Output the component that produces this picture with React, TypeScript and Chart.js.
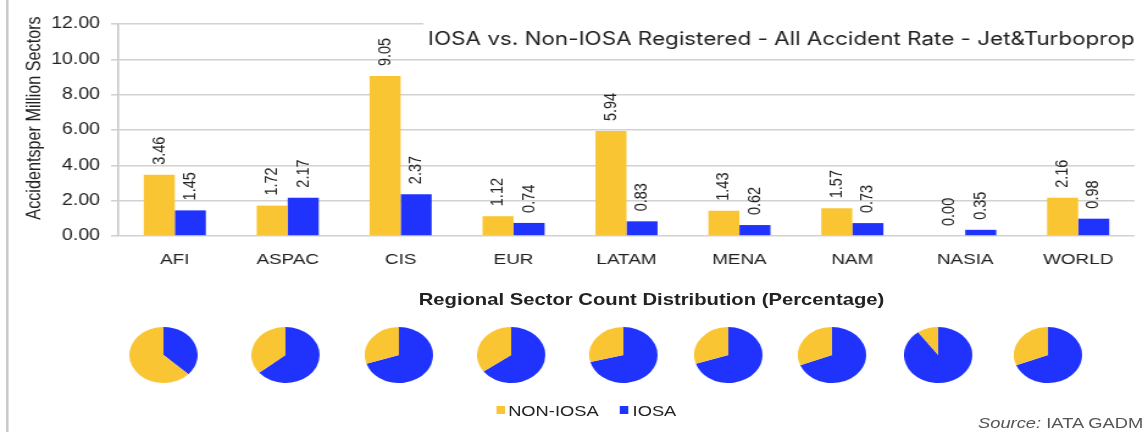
import React, { useEffect, useRef } from "react";
import { Chart, registerables } from "chart.js";

Chart.register(...registerables);

// ---------- data ----------
const categories = ["AFI", "ASPAC", "CIS", "EUR", "LATAM", "MENA", "NAM", "NASIA", "WORLD"];
const nonIosaRates = [3.46, 1.72, 9.05, 1.12, 5.94, 1.43, 1.57, 0.0, 2.16];
const iosaRates = [1.45, 2.17, 2.37, 0.74, 0.83, 0.62, 0.73, 0.35, 0.98];
const yTickValues = [0, 2, 4, 6, 8, 10, 12];
const pieNonIosaShare = [63, 36, 30, 35, 29, 30, 31, 10, 31];
const pieIosaShare = [37, 64, 70, 65, 71, 70, 69, 90, 69];
const seriesNames = ["NON-IOSA", "IOSA"];
const chartTitle = "IOSA vs. Non-IOSA Registered - All Accident Rate - Jet&Turboprop";
const yAxisTitle = "Accidentsper Million Sectors";
const pieSectionTitle = "Regional Sector Count Distribution (Percentage)";
const sourceLabel = "Source:";
const sourceText = " IATA GADM";

// ---------- layout / style ----------
const YELLOW = "#F9C533";
const BLUE = "#1F33FC";
const TEXT = "#222222";
const STRETCH = 1.22;
const DW = 940; // design width (stretched horizontally to 1147)
const BAR_H = 280;
const PLOT_LEFT = 97;
const PLOT_TOP = 24;
const PLOT_BOTTOM = 236;
const PAD_LEFT = 12;
const PIE_D = 56;
const PIE_CY = 355;
const pieCentersX = [134, 234, 327, 419, 511, 597, 682, 769, 859];

const titlePlugin = {
  id: "topTitle",
  beforeDatasetsDraw(chart: any) {
    const ctx = chart.ctx;
    ctx.save();
    ctx.fillStyle = "#ffffff";
    ctx.fillRect(347, 17, chart.width - 347, 37);
    ctx.fillStyle = TEXT;
    ctx.font = "18.4px Inter";
    ctx.textAlign = "right";
    ctx.textBaseline = "middle";
    ctx.fillText(chartTitle, 930, 39);
    // y-axis title
    ctx.save();
    ctx.translate(28.5, 118);
    ctx.rotate(-Math.PI / 2);
    ctx.textAlign = "center";
    ctx.font = "16.2px 'Liberation Sans'";
    ctx.fillText(yAxisTitle, 0, 0);
    ctx.restore();
    ctx.restore();
  },
};

const valueLabelPlugin = {
  id: "valueLabels",
  afterDatasetsDraw(chart: any) {
    const ctx = chart.ctx;
    ctx.save();
    ctx.fillStyle = TEXT;
    ctx.font = "14.5px 'Liberation Sans'";
    ctx.textAlign = "left";
    ctx.textBaseline = "middle";
    chart.data.datasets.forEach((ds: any, di: number) => {
      const meta = chart.getDatasetMeta(di);
      meta.data.forEach((bar: any, i: number) => {
        const v = ds.data[i] as number;
        ctx.save();
        ctx.translate(bar.x, bar.y - 10);
        ctx.rotate(-Math.PI / 2);
        ctx.fillText(v.toFixed(2), 0, 0);
        ctx.restore();
      });
    });
    ctx.restore();
  },
};

function BarChart() {
  const ref = useRef<HTMLCanvasElement | null>(null);
  useEffect(() => {
    if (!ref.current) return;
    const chart = new Chart(ref.current, {
      type: "bar",
      data: {
        labels: categories,
        datasets: [
          { label: seriesNames[0], data: nonIosaRates, backgroundColor: YELLOW, categoryPercentage: 0.55, barPercentage: 1 },
          { label: seriesNames[1], data: iosaRates, backgroundColor: BLUE, categoryPercentage: 0.55, barPercentage: 1 },
        ],
      },
      options: {
        responsive: false,
        animation: false,
        events: [],
        layout: { padding: { top: PLOT_TOP, left: PAD_LEFT, right: DW - 930, bottom: 0 } },
        plugins: { legend: { display: false }, tooltip: { enabled: false }, title: { display: false } },
        scales: {
          x: {
            grid: { display: false, drawTicks: false },
            border: { display: false },
            ticks: { padding: 14, color: TEXT, font: { family: "'Liberation Sans'", size: 15.5 } },
            afterFit: (s: any) => {
              s.height = BAR_H - PLOT_BOTTOM;
            },
          },
          y: {
            min: 0,
            max: 12,
            afterBuildTicks: (s: any) => {
              s.ticks = yTickValues.map((v) => ({ value: v }));
            },
            ticks: {
              padding: 9,
              color: TEXT,
              font: { family: "'Liberation Sans'", size: 16 },
              callback: (v: any) => Number(v).toFixed(2),
            },
            grid: { color: "#d2d2d2", lineWidth: 1.6, tickLength: 6 },
            border: { display: true, color: "#c6c6c6", width: 1.6 },
            title: { display: false },
            afterFit: (s: any) => {
              s.width = PLOT_LEFT - PAD_LEFT;
            },
          },
        },
      },
      plugins: [titlePlugin, valueLabelPlugin],
    });
    return () => chart.destroy();
  }, []);
  return <canvas ref={ref} width={DW} height={BAR_H} style={{ position: "absolute", left: 0, top: 0 }} />;
}

function Pie({ index }: { index: number }) {
  const ref = useRef<HTMLCanvasElement | null>(null);
  useEffect(() => {
    if (!ref.current) return;
    const chart = new Chart(ref.current, {
      type: "pie",
      data: {
        labels: [seriesNames[1], seriesNames[0]],
        datasets: [
          {
            data: [pieIosaShare[index], pieNonIosaShare[index]],
            backgroundColor: [BLUE, YELLOW],
            borderWidth: 0,
            hoverOffset: 0,
          },
        ],
      },
      options: {
        responsive: false,
        animation: false,
        events: [],
        plugins: { legend: { display: false }, tooltip: { enabled: false } },
      },
    });
    return () => chart.destroy();
  }, [index]);
  return (
    <canvas
      ref={ref}
      width={PIE_D}
      height={PIE_D}
      style={{ position: "absolute", left: pieCentersX[index] - PIE_D / 2, top: PIE_CY - PIE_D / 2 }}
    />
  );
}

export default function App() {
  const font = "'Liberation Sans', Arial, sans-serif";
  return (
    <div style={{ position: "absolute", left: 0, top: 0, width: 1147, height: 432, background: "#fff", overflow: "hidden" }}>
      <div
        style={{
          position: "absolute",
          left: 0,
          top: 0,
          width: DW,
          height: 432,
          transform: `scaleX(${STRETCH})`,
          transformOrigin: "0 0",
          fontFamily: font,
        }}
      >
        <div style={{ position: "absolute", left: 5, top: 0, width: 1.6, height: 432, background: "#c8c8c8" }} />
        <BarChart />
        <div
          style={{
            position: "absolute",
            left: 534 - 300,
            width: 600,
            top: 290,
            textAlign: "center",
            fontWeight: 700,
            fontSize: 16.6,
            lineHeight: "20px",
            color: TEXT,
          }}
        >
          {pieSectionTitle}
        </div>
        {categories.map((_, i) => (
          <Pie key={i} index={i} />
        ))}
        <div style={{ position: "absolute", left: 407, top: 400, height: 20, display: "flex", alignItems: "center", fontSize: 15, color: TEXT }}>
          <span style={{ display: "inline-block", width: 6.5, height: 8, background: YELLOW, marginRight: 3 }} />
          <span>{seriesNames[0]}</span>
        </div>
        <div style={{ position: "absolute", left: 508, top: 400, height: 20, display: "flex", alignItems: "center", fontSize: 15, color: TEXT }}>
          <span style={{ display: "inline-block", width: 6.5, height: 8, background: BLUE, marginRight: 4 }} />
          <span>{seriesNames[1]}</span>
        </div>
        <div
          style={{
            position: "absolute",
            right: DW - 937,
            top: 413,
            height: 20,
            lineHeight: "20px",
            fontSize: 15,
            color: "#555",
            whiteSpace: "nowrap",
          }}
        >
          <i>{sourceLabel}</i>
          {sourceText}
        </div>
      </div>
    </div>
  );
}
